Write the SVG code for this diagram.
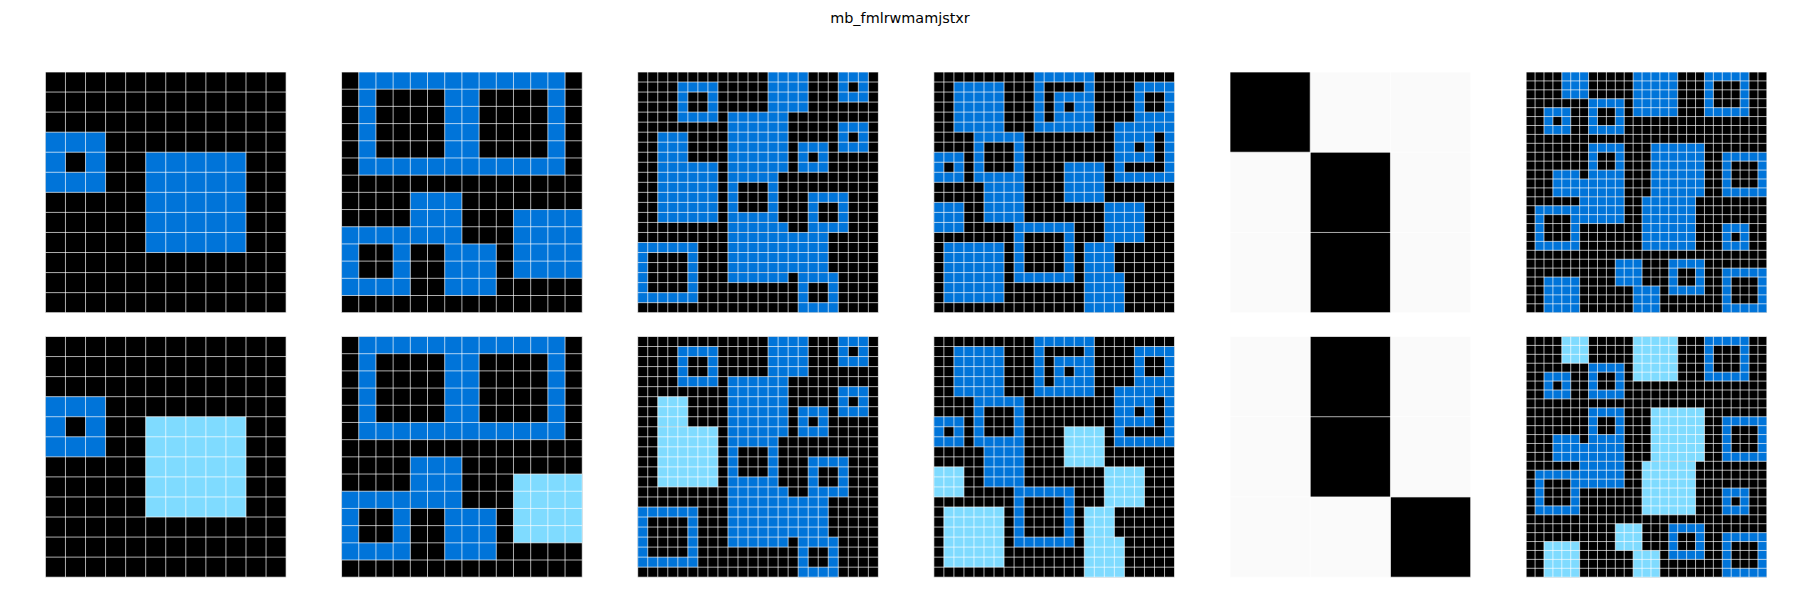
<svg xmlns="http://www.w3.org/2000/svg" xmlns:xlink="http://www.w3.org/1999/xlink" width="1800" height="600" viewBox="0 0 1800 600">
<style>
.k{fill:#000000}
.b{fill:#0074D9}
.l{fill:#7FDBFF}
.w{fill:#fafafa}
.gl{fill:none;stroke:#ffffff;stroke-opacity:0.68;stroke-width:1}
.t{font-family:"DejaVu Sans",sans-serif;font-size:14.4px;fill:#000}
</style>
<defs>
<path id="g3" vector-effect="non-scaling-stroke" d="M0 0H3M0 1H3M0 2H3M0 3H3M0 0V3M1 0V3M2 0V3M3 0V3"/>
<path id="g12" vector-effect="non-scaling-stroke" d="M0 0H12M0 1H12M0 2H12M0 3H12M0 4H12M0 5H12M0 6H12M0 7H12M0 8H12M0 9H12M0 10H12M0 11H12M0 12H12M0 0V12M1 0V12M2 0V12M3 0V12M4 0V12M5 0V12M6 0V12M7 0V12M8 0V12M9 0V12M10 0V12M11 0V12M12 0V12"/>
<path id="g14" vector-effect="non-scaling-stroke" d="M0 0H14M0 1H14M0 2H14M0 3H14M0 4H14M0 5H14M0 6H14M0 7H14M0 8H14M0 9H14M0 10H14M0 11H14M0 12H14M0 13H14M0 14H14M0 0V14M1 0V14M2 0V14M3 0V14M4 0V14M5 0V14M6 0V14M7 0V14M8 0V14M9 0V14M10 0V14M11 0V14M12 0V14M13 0V14M14 0V14"/>
<path id="g24" vector-effect="non-scaling-stroke" d="M0 0H24M0 1H24M0 2H24M0 3H24M0 4H24M0 5H24M0 6H24M0 7H24M0 8H24M0 9H24M0 10H24M0 11H24M0 12H24M0 13H24M0 14H24M0 15H24M0 16H24M0 17H24M0 18H24M0 19H24M0 20H24M0 21H24M0 22H24M0 23H24M0 24H24M0 0V24M1 0V24M2 0V24M3 0V24M4 0V24M5 0V24M6 0V24M7 0V24M8 0V24M9 0V24M10 0V24M11 0V24M12 0V24M13 0V24M14 0V24M15 0V24M16 0V24M17 0V24M18 0V24M19 0V24M20 0V24M21 0V24M22 0V24M23 0V24M24 0V24"/>
<path id="g27" vector-effect="non-scaling-stroke" d="M0 0H27M0 1H27M0 2H27M0 3H27M0 4H27M0 5H27M0 6H27M0 7H27M0 8H27M0 9H27M0 10H27M0 11H27M0 12H27M0 13H27M0 14H27M0 15H27M0 16H27M0 17H27M0 18H27M0 19H27M0 20H27M0 21H27M0 22H27M0 23H27M0 24H27M0 25H27M0 26H27M0 27H27M0 0V27M1 0V27M2 0V27M3 0V27M4 0V27M5 0V27M6 0V27M7 0V27M8 0V27M9 0V27M10 0V27M11 0V27M12 0V27M13 0V27M14 0V27M15 0V27M16 0V27M17 0V27M18 0V27M19 0V27M20 0V27M21 0V27M22 0V27M23 0V27M24 0V27M25 0V27M26 0V27M27 0V27"/>
</defs>
<rect width="1800" height="600" fill="#ffffff"/>
<text class="t" x="900" y="23" text-anchor="middle">mb_fmlrwmamjstxr</text>

<g id="p1in" transform="translate(45.4,72) scale(20.058)">
<rect class="k" width="12" height="12"/>
<rect class="b" x="0" y="3" width="3" height="3"/><rect class="k" x="1" y="4" width="1" height="1"/>
<rect class="b" x="5" y="4" width="5" height="5"/>
<use xlink:href="#g12" class="gl"/>
</g>
<g id="p1out" transform="translate(45.4,336.5) scale(20.058)">
<rect class="k" width="12" height="12"/>
<rect class="b" x="0" y="3" width="3" height="3"/><rect class="k" x="1" y="4" width="1" height="1"/>
<rect class="l" x="5" y="4" width="5" height="5"/>
<use xlink:href="#g12" class="gl"/>
</g>

<g id="p2in" transform="translate(341.55,72) scale(17.193)">
<rect class="k" width="14" height="14"/>
<rect class="b" x="1" y="0" width="12" height="6"/><rect class="k" x="2" y="1" width="4" height="4"/><rect class="k" x="8" y="1" width="4" height="4"/>
<rect class="b" x="4" y="7" width="3" height="3"/>
<rect class="b" x="0" y="9" width="4" height="4"/><rect class="k" x="1" y="10" width="2" height="2"/>
<rect class="b" x="6" y="10" width="3" height="3"/>
<rect class="b" x="10" y="8" width="4" height="4"/>
<use xlink:href="#g14" class="gl"/>
</g>
<g id="p2out" transform="translate(341.55,336.5) scale(17.193)">
<rect class="k" width="14" height="14"/>
<rect class="b" x="1" y="0" width="12" height="6"/><rect class="k" x="2" y="1" width="4" height="4"/><rect class="k" x="8" y="1" width="4" height="4"/>
<rect class="b" x="4" y="7" width="3" height="3"/>
<rect class="b" x="0" y="9" width="4" height="4"/><rect class="k" x="1" y="10" width="2" height="2"/>
<rect class="b" x="6" y="10" width="3" height="3"/>
<rect class="l" x="10" y="8" width="4" height="4"/>
<use xlink:href="#g14" class="gl"/>
</g>

<g id="p3in" transform="translate(637.7,72) scale(10.029)">
<rect class="k" width="24" height="24"/>
<rect class="b" x="4" y="1" width="4" height="4"/><rect class="k" x="5" y="2" width="2" height="2"/>
<rect class="b" x="13" y="0" width="4" height="4"/>
<rect class="b" x="20" y="0" width="3" height="3"/><rect class="k" x="21" y="1" width="1" height="1"/>
<rect class="b" x="20" y="5" width="3" height="3"/><rect class="k" x="21" y="6" width="1" height="1"/>
<rect class="b" x="16" y="7" width="3" height="3"/><rect class="k" x="17" y="8" width="1" height="1"/>
<rect class="b" x="2" y="6" width="3" height="3"/><rect class="b" x="2" y="9" width="6" height="6"/>
<rect class="b" x="9" y="4" width="6" height="6"/>
<rect class="b" x="9" y="10" width="5" height="5"/><rect class="k" x="10" y="11" width="3" height="3"/>
<rect class="b" x="9" y="15" width="6" height="1"/>
<rect class="b" x="9" y="16" width="10" height="4"/>
<rect class="b" x="9" y="20" width="6" height="1"/>
<rect class="b" x="17" y="12" width="4" height="4"/><rect class="k" x="18" y="13" width="2" height="2"/>
<rect class="b" x="16" y="20" width="4" height="4"/><rect class="k" x="17" y="21" width="2" height="2"/>
<rect class="b" x="0" y="17" width="6" height="6"/><rect class="k" x="1" y="18" width="4" height="4"/>
<use xlink:href="#g24" class="gl"/>
</g>
<g id="p3out" transform="translate(637.7,336.5) scale(10.029)">
<rect class="k" width="24" height="24"/>
<rect class="b" x="4" y="1" width="4" height="4"/><rect class="k" x="5" y="2" width="2" height="2"/>
<rect class="b" x="13" y="0" width="4" height="4"/>
<rect class="b" x="20" y="0" width="3" height="3"/><rect class="k" x="21" y="1" width="1" height="1"/>
<rect class="b" x="20" y="5" width="3" height="3"/><rect class="k" x="21" y="6" width="1" height="1"/>
<rect class="b" x="16" y="7" width="3" height="3"/><rect class="k" x="17" y="8" width="1" height="1"/>
<rect class="l" x="2" y="6" width="3" height="3"/><rect class="l" x="2" y="9" width="6" height="6"/>
<rect class="b" x="9" y="4" width="6" height="6"/>
<rect class="b" x="9" y="10" width="5" height="5"/><rect class="k" x="10" y="11" width="3" height="3"/>
<rect class="b" x="9" y="15" width="6" height="1"/>
<rect class="b" x="9" y="16" width="10" height="4"/>
<rect class="b" x="9" y="20" width="6" height="1"/>
<rect class="b" x="17" y="12" width="4" height="4"/><rect class="k" x="18" y="13" width="2" height="2"/>
<rect class="b" x="16" y="20" width="4" height="4"/><rect class="k" x="17" y="21" width="2" height="2"/>
<rect class="b" x="0" y="17" width="6" height="6"/><rect class="k" x="1" y="18" width="4" height="4"/>
<use xlink:href="#g24" class="gl"/>
</g>

<g id="p4in" transform="translate(933.85,72) scale(10.029)">
<rect class="k" width="24" height="24"/>
<rect class="b" x="2" y="1" width="5" height="5"/>
<rect class="b" x="10" y="0" width="6" height="6"/><rect class="k" x="11" y="1" width="4" height="1"/><rect class="k" x="11" y="2" width="1" height="3"/><rect class="k" x="13" y="3" width="1" height="1"/>
<rect class="b" x="20" y="1" width="4" height="4"/><rect class="k" x="21" y="2" width="2" height="2"/>
<rect class="b" x="18" y="5" width="6" height="6"/><rect class="k" x="22" y="6" width="1" height="3"/><rect class="k" x="20" y="7" width="1" height="1"/><rect class="k" x="19" y="9" width="4" height="1"/>
<rect class="b" x="4" y="6" width="5" height="5"/><rect class="k" x="5" y="7" width="3" height="3"/>
<rect class="b" x="5" y="11" width="4" height="4"/>
<rect class="b" x="0" y="8" width="3" height="3"/><rect class="k" x="1" y="9" width="1" height="1"/>
<rect class="b" x="13" y="9" width="4" height="4"/>
<rect class="b" x="0" y="13" width="3" height="3"/>
<rect class="b" x="17" y="13" width="4" height="4"/>
<rect class="b" x="8" y="15" width="6" height="6"/><rect class="k" x="9" y="16" width="4" height="4"/>
<rect class="b" x="1" y="17" width="6" height="6"/>
<rect class="b" x="15" y="17" width="3" height="3"/><rect class="b" x="15" y="20" width="4" height="4"/>
<use xlink:href="#g24" class="gl"/>
</g>
<g id="p4out" transform="translate(933.85,336.5) scale(10.029)">
<rect class="k" width="24" height="24"/>
<rect class="b" x="2" y="1" width="5" height="5"/>
<rect class="b" x="10" y="0" width="6" height="6"/><rect class="k" x="11" y="1" width="4" height="1"/><rect class="k" x="11" y="2" width="1" height="3"/><rect class="k" x="13" y="3" width="1" height="1"/>
<rect class="b" x="20" y="1" width="4" height="4"/><rect class="k" x="21" y="2" width="2" height="2"/>
<rect class="b" x="18" y="5" width="6" height="6"/><rect class="k" x="22" y="6" width="1" height="3"/><rect class="k" x="20" y="7" width="1" height="1"/><rect class="k" x="19" y="9" width="4" height="1"/>
<rect class="b" x="4" y="6" width="5" height="5"/><rect class="k" x="5" y="7" width="3" height="3"/>
<rect class="b" x="5" y="11" width="4" height="4"/>
<rect class="b" x="0" y="8" width="3" height="3"/><rect class="k" x="1" y="9" width="1" height="1"/>
<rect class="l" x="13" y="9" width="4" height="4"/>
<rect class="l" x="0" y="13" width="3" height="3"/>
<rect class="l" x="17" y="13" width="4" height="4"/>
<rect class="b" x="8" y="15" width="6" height="6"/><rect class="k" x="9" y="16" width="4" height="4"/>
<rect class="l" x="1" y="17" width="6" height="6"/>
<rect class="l" x="15" y="17" width="3" height="3"/><rect class="l" x="15" y="20" width="4" height="4"/>
<use xlink:href="#g24" class="gl"/>
</g>

<g id="p5in" transform="translate(1230,72) scale(80.233)">
<rect class="w" width="3" height="3"/>
<rect class="k" x="0" y="0" width="1" height="1"/><rect class="k" x="1" y="1" width="1" height="2"/>
<use xlink:href="#g3" class="gl"/>
</g>
<g id="p5out" transform="translate(1230,336.5) scale(80.233)">
<rect class="w" width="3" height="3"/>
<rect class="k" x="1" y="0" width="1" height="2"/><rect class="k" x="2" y="2" width="1" height="1"/>
<use xlink:href="#g3" class="gl"/>
</g>

<g id="p6in" transform="translate(1526.15,72) scale(8.915)">
<rect class="k" width="27" height="27"/>
<rect class="b" x="4" y="0" width="3" height="3"/>
<rect class="b" x="12" y="0" width="5" height="5"/>
<rect class="b" x="20" y="0" width="5" height="5"/><rect class="k" x="21" y="1" width="3" height="3"/>
<rect class="b" x="7" y="3" width="4" height="4"/><rect class="k" x="8" y="4" width="2" height="2"/>
<rect class="b" x="2" y="4" width="3" height="3"/><rect class="k" x="3" y="5" width="1" height="1"/>
<rect class="b" x="7" y="8" width="4" height="4"/><rect class="k" x="8" y="9" width="2" height="2"/>
<rect class="b" x="14" y="8" width="6" height="6"/>
<rect class="b" x="22" y="9" width="5" height="5"/><rect class="k" x="23" y="10" width="3" height="3"/>
<rect class="b" x="3" y="11" width="3" height="3"/>
<rect class="b" x="3" y="12" width="8" height="2"/>
<rect class="b" x="6" y="14" width="5" height="3"/>
<rect class="b" x="1" y="15" width="5" height="5"/><rect class="k" x="2" y="16" width="3" height="3"/>
<rect class="b" x="13" y="14" width="6" height="6"/>
<rect class="b" x="22" y="17" width="3" height="3"/><rect class="k" x="23" y="18" width="1" height="1"/>
<rect class="b" x="10" y="21" width="3" height="3"/>
<rect class="b" x="16" y="21" width="4" height="4"/><rect class="k" x="17" y="22" width="2" height="2"/>
<rect class="b" x="22" y="22" width="5" height="5"/><rect class="k" x="23" y="23" width="3" height="3"/>
<rect class="b" x="2" y="23" width="4" height="4"/>
<rect class="b" x="12" y="24" width="3" height="3"/>
<use xlink:href="#g27" class="gl"/>
</g>
<g id="p6out" transform="translate(1526.15,336.5) scale(8.915)">
<rect class="k" width="27" height="27"/>
<rect class="l" x="4" y="0" width="3" height="3"/>
<rect class="l" x="12" y="0" width="5" height="5"/>
<rect class="b" x="20" y="0" width="5" height="5"/><rect class="k" x="21" y="1" width="3" height="3"/>
<rect class="b" x="7" y="3" width="4" height="4"/><rect class="k" x="8" y="4" width="2" height="2"/>
<rect class="b" x="2" y="4" width="3" height="3"/><rect class="k" x="3" y="5" width="1" height="1"/>
<rect class="b" x="7" y="8" width="4" height="4"/><rect class="k" x="8" y="9" width="2" height="2"/>
<rect class="l" x="14" y="8" width="6" height="6"/>
<rect class="b" x="22" y="9" width="5" height="5"/><rect class="k" x="23" y="10" width="3" height="3"/>
<rect class="b" x="3" y="11" width="3" height="3"/>
<rect class="b" x="3" y="12" width="8" height="2"/>
<rect class="b" x="6" y="14" width="5" height="3"/>
<rect class="b" x="1" y="15" width="5" height="5"/><rect class="k" x="2" y="16" width="3" height="3"/>
<rect class="l" x="13" y="14" width="6" height="6"/>
<rect class="b" x="22" y="17" width="3" height="3"/><rect class="k" x="23" y="18" width="1" height="1"/>
<rect class="l" x="10" y="21" width="3" height="3"/>
<rect class="b" x="16" y="21" width="4" height="4"/><rect class="k" x="17" y="22" width="2" height="2"/>
<rect class="b" x="22" y="22" width="5" height="5"/><rect class="k" x="23" y="23" width="3" height="3"/>
<rect class="l" x="2" y="23" width="4" height="4"/>
<rect class="l" x="12" y="24" width="3" height="3"/>
<use xlink:href="#g27" class="gl"/>
</g>
</svg>
